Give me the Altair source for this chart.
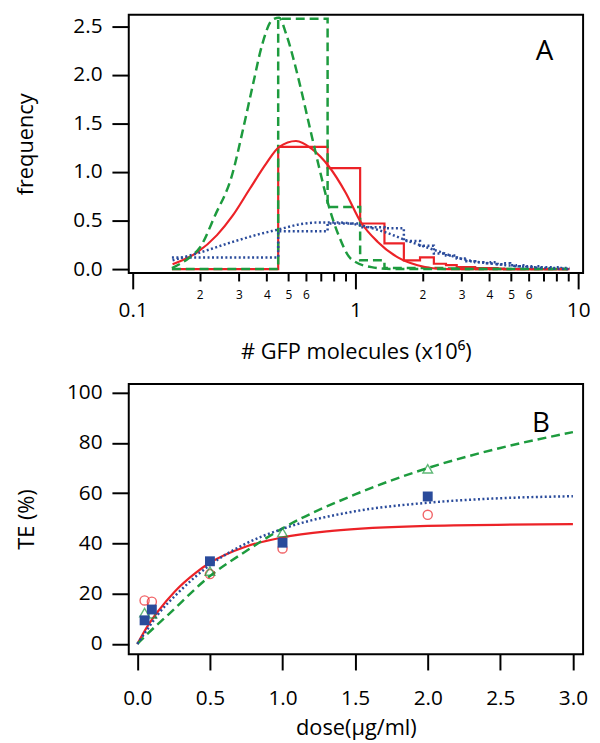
import altair as alt
import pandas as pd

# ---------------- Panel A data ----------------
bin_edges = [0.15, 0.45, 0.75, 1.05, 1.35, 1.65, 1.95, 2.25, 2.55, 2.85, 3.15,
             3.45, 3.75, 4.05, 4.35, 4.65, 4.95, 5.25, 5.55, 5.85, 6.15,
             6.45, 6.75, 7.05, 7.35, 7.65, 7.95, 8.25, 8.55, 8.85, 9.15]
hist_red = [0.0, 1.26, 1.04, 0.47, 0.265, 0.09, 0.12, 0.055, 0.04, 0.02,
            0.02, 0.01, 0.01, 0.01, 0.005, 0.0, 0.0, 0.0, 0.0, 0.0,
            0.0, 0.0, 0.0, 0.0, 0.0, 0.0, 0.0, 0.0, 0.0, 0.0]
hist_green = [0.0, 2.58, 0.64, 0.09, 0.01, 0.01, 0.01, 0.01, 0.005, 0.0,
              0.0, 0.0, 0.0, 0.0, 0.0, 0.0, 0.0, 0.0, 0.0, 0.0,
              0.0, 0.0, 0.0, 0.0, 0.0, 0.0, 0.0, 0.0, 0.0, 0.0]
hist_blue = [0.12, 0.39, 0.47, 0.43, 0.42, 0.29, 0.24, 0.16, 0.14, 0.11,
             0.08, 0.07, 0.06, 0.07, 0.05, 0.06, 0.04, 0.03, 0.04, 0.03,
             0.02, 0.03, 0.02, 0.02, 0.02, 0.01, 0.02, 0.01, 0.01, 0.01]

fit_red_x = [0.151, 0.194, 0.239, 0.281, 0.334, 0.398, 0.455, 0.541, 0.637,
             0.759, 0.903, 1.06, 1.26, 1.55, 1.9, 2.6, 9.0]
fit_red_y = [0.05, 0.17, 0.35, 0.55, 0.82, 1.09, 1.26, 1.32, 1.24,
             1.06, 0.79, 0.48, 0.28, 0.12, 0.04, 0.0, 0.0]
fit_green_x = [0.15, 0.18, 0.2, 0.234, 0.281, 0.31, 0.345, 0.382, 0.424, 0.455,
               0.489, 0.558, 0.618, 0.685, 0.759, 0.84, 0.96, 1.18, 1.5, 9.0]
fit_green_y = [0.01, 0.12, 0.22, 0.55, 0.99, 1.40, 1.88, 2.32, 2.57, 2.59,
               2.42, 1.94, 1.50, 1.06, 0.65, 0.35, 0.10, 0.02, 0.0, 0.0]
fit_blue_x = [0.151, 0.2, 0.281, 0.37, 0.455, 0.558, 0.685, 0.84, 1.06, 1.36,
              1.72, 2.18, 3.07, 4.33, 6.06, 9.1]
fit_blue_y = [0.09, 0.17, 0.28, 0.36, 0.41, 0.46, 0.48, 0.48, 0.45, 0.38,
              0.29, 0.21, 0.10, 0.05, 0.02, 0.0]

# ---------------- Panel B data ----------------
dose = [0.05, 0.1, 0.5, 1.0, 2.0]
te_red = [17.3, 16.8, 27.8, 38.0, 51.4]
te_green = [12.5, 12.0, 29.0, 44.4, 69.7]
te_blue = [9.4, 13.7, 32.9, 40.3, 58.7]

curve_red_x = [0, 0.075, 0.143, 0.26, 0.395, 0.5, 0.75, 1.0, 1.34, 2.0, 3.0]
curve_red_y = [0, 7.5, 13.0, 21.0, 28.0, 32.3, 38.8, 42.4, 45.0, 47.0, 47.7]
curve_blue_x = [0, 0.075, 0.143, 0.28, 0.5, 0.75, 1.0, 1.5, 2.0, 2.5, 3.0]
curve_blue_y = [0, 6.3, 11.8, 20.3, 31.4, 40.0, 45.8, 52.8, 56.2, 58.0, 58.8]
curve_green_x = [0, 0.075, 0.21, 0.5, 0.75, 1.0, 1.5, 2.0, 2.5, 3.0]
curve_green_y = [0, 4.3, 11.5, 27.0, 37.0, 46.0, 59.5, 70.0, 78.0, 84.3]

panel_labels = ["A", "B"]

RED = "#ec2227"
GREEN = "#1d9b3e"
BLUE = "#2a4b9b"
FONT = "Open Sans"


def hist_df(vals):
    return pd.DataFrame({"x": bin_edges, "y": list(vals) + [vals[-1]]})


xA = alt.Scale(type="log", domain=[0.096, 10.525], nice=False)
yA = alt.Scale(domain=[-0.041, 2.622], nice=False, zero=False)

major_x = alt.Axis(values=[0.1, 1, 10], format="~g", tickSize=16, labelFontSize=21,
                   labelPadding=11, title="# GFP molecules (x10⁶)", titleFontSize=22,
                   titlePadding=21, orient="bottom", labelFlush=False, labelOverlap=False)
minor_x = alt.Axis(values=[0.2, 0.3, 0.4, 0.5, 0.6, 0.7, 0.8, 0.9, 2, 3, 4, 5, 6, 7, 8, 9],
                   labelExpr="datum.value < 1 ? (datum.value < 0.65 ? format(datum.value*10, '.0f') : '') : (datum.value < 6.5 ? format(datum.value, '.0f') : '')",
                   tickSize=8, labelFontSize=12, labelPadding=9, title=None,
                   orient="bottom", labelFlush=False, labelOverlap=False)
y_axis_A = alt.Axis(values=[0, 0.5, 1, 1.5, 2, 2.5], format=".1f", tickSize=17,
                    labelPadding=10, labelFontSize=21, title="frequency", titleFontSize=22,
                    titlePadding=36, orient="left")


def layerA(df, mark, xaxis=None):
    return alt.Chart(df).mark_line(**mark).encode(
        x=alt.X("x:Q", scale=xA, axis=xaxis),
        y=alt.Y("y:Q", scale=yA, axis=y_axis_A),
    )


h_red = layerA(hist_df(hist_red), dict(interpolate="step-after", color=RED, strokeWidth=2.2), major_x)
h_green = layerA(hist_df(hist_green), dict(interpolate="step-after", color=GREEN, strokeDash=[9, 5], strokeWidth=2.5), minor_x)
h_blue = layerA(hist_df(hist_blue), dict(interpolate="step-after", color=BLUE, strokeDash=[2, 2.5], strokeWidth=2.5))
c_red = layerA(pd.DataFrame({"x": fit_red_x, "y": fit_red_y}),
               dict(interpolate="monotone", color=RED, strokeWidth=2.2))
c_green = layerA(pd.DataFrame({"x": fit_green_x, "y": fit_green_y}),
                 dict(interpolate="monotone", color=GREEN, strokeDash=[9, 5], strokeWidth=2.5))
c_blue = layerA(pd.DataFrame({"x": fit_blue_x, "y": fit_blue_y}),
                dict(interpolate="monotone", color=BLUE, strokeDash=[2, 2.5], strokeWidth=2.5))

label_A = alt.Chart(pd.DataFrame({"x": [7.06], "y": [2.24], "t": [panel_labels[0]]})).mark_text(
    fontSize=28, font=FONT, color="black"
).encode(x=alt.X("x:Q", scale=xA, axis=None), y=alt.Y("y:Q", scale=yA, axis=y_axis_A), text="t:N")

panelA = alt.layer(h_red, h_green, h_blue, c_red, c_green, c_blue, label_A).resolve_axis(
    x="independent"
).properties(width=459, height=261)

# ---------------- Panel B ----------------
xB = alt.Scale(domain=[-0.059, 3.07], nice=False, zero=False)
yB = alt.Scale(domain=[-4.06, 103.5], nice=False, zero=False)

x_axis_B = alt.Axis(values=[0, 0.5, 1, 1.5, 2, 2.5, 3], format=".1f", tickSize=16,
                    labelFontSize=21, labelPadding=18, title="dose(µg/ml)", titleFontSize=22,
                    titlePadding=9, labelFlush=False)
y_axis_B = alt.Axis(values=[0, 20, 40, 60, 80, 100], format="d", tickSize=17,
                    labelPadding=10, labelFontSize=21, title="TE (%)", titleFontSize=22,
                    titlePadding=28)


def encB(chart, yfield, xfield="x"):
    return chart.encode(x=alt.X(f"{xfield}:Q", scale=xB, axis=x_axis_B),
                        y=alt.Y(f"{yfield}:Q", scale=yB, axis=y_axis_B))


cb_red = encB(alt.Chart(pd.DataFrame({"x": curve_red_x, "y": curve_red_y})).mark_line(
    interpolate="monotone", color=RED, strokeWidth=2.2), "y")
cb_green = encB(alt.Chart(pd.DataFrame({"x": curve_green_x, "y": curve_green_y})).mark_line(
    interpolate="monotone", color=GREEN, strokeDash=[9, 5], strokeWidth=2.5), "y")
cb_blue = encB(alt.Chart(pd.DataFrame({"x": curve_blue_x, "y": curve_blue_y})).mark_line(
    interpolate="monotone", color=BLUE, strokeDash=[2, 2.5], strokeWidth=2.5), "y")

pts = pd.DataFrame({"x": dose, "red": te_red, "green": te_green, "blue": te_blue})
p_red = encB(alt.Chart(pts).mark_point(shape="circle", size=85, color=RED, strokeWidth=1.4,
                                       filled=False), "red")
p_green = encB(alt.Chart(pts).mark_point(shape="triangle-up", size=95, color=GREEN,
                                         strokeWidth=1.4, filled=False), "green")
p_blue = encB(alt.Chart(pts).mark_point(shape="square", size=100, color=BLUE, filled=True,
                                        opacity=1), "blue")

label_B = encB(alt.Chart(pd.DataFrame({"x": [2.78], "y": [87.5], "t": [panel_labels[1]]})).mark_text(
    fontSize=28, font=FONT, color="black"), "y").encode(text="t:N")

panelB = alt.layer(cb_red, cb_green, cb_blue, p_red, p_green, p_blue, label_B).properties(
    width=459, height=273)

chart = alt.vconcat(panelA, panelB, spacing=17).properties(
    padding={"left": 5, "top": 0, "right": 0, "bottom": 0}
).configure_view(
    stroke="black", strokeWidth=2
).configure_axis(
    domain=False, grid=False, tickColor="black", tickWidth=2, labelColor="black",
    titleColor="black", labelFont=FONT, titleFont=FONT, titleFontWeight="normal"
)

chart.save("out.html", embed_options={"renderer": "svg", "actions": False})
